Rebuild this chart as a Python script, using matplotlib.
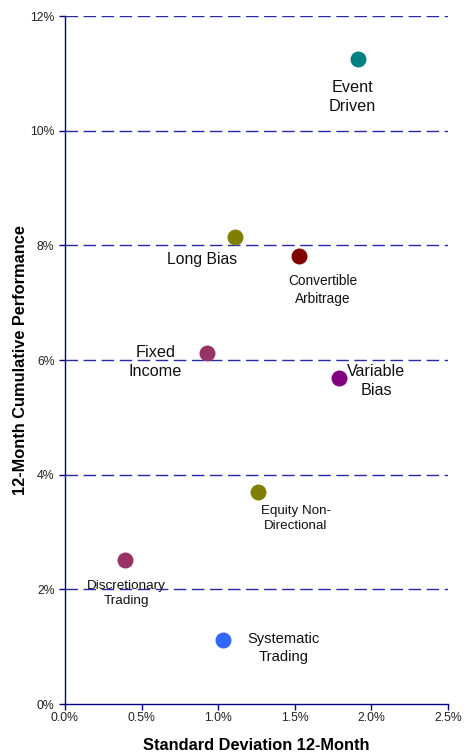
import matplotlib
matplotlib.use("Agg")
import matplotlib.pyplot as plt
from matplotlib.ticker import FuncFormatter

# --------------------
# DATA (percent)
# --------------------
strategies = ["Event\nDriven", "Long Bias", "Convertible\nArbitrage", "Fixed\nIncome",
              "Variable\nBias", "Equity Non-\nDirectional", "Discretionary\nTrading",
              "Systematic\nTrading"]
std_dev = [1.91, 1.11, 1.53, 0.93, 1.79, 1.26, 0.39, 1.03]
performance = [11.25, 8.15, 7.81, 6.12, 5.69, 3.70, 2.51, 1.12]
colors = ["#008080", "#808000", "#800000", "#993366", "#800080", "#808000",
          "#993366", "#3366FF"]

# label offsets in pixels and font sizes
offsets = [(-5, -38), (-33, -23), (23, -34), (-52, -9), (37, -3), (38, -27),
           (2, -33), (61, -8)]
sizes = [11.7, 11.3, 9.8, 11.7, 11.6, 9.6, 9.7, 10.6]

plt.rcParams['font.family'] = ['Liberation Sans', 'DejaVu Sans']
NAVY = "#000080"

fig = plt.figure(figsize=(4.74, 7.55), dpi=100)
ax = fig.add_axes([0.1371, 0.0675, 0.808, 0.9113])

for x, y, c in zip(std_dev, performance, colors):
    ax.plot(x, y, 'o', color=c, markersize=11.5, markeredgewidth=0, zorder=3)

for x, y, lab, off, fs in zip(std_dev, performance, strategies, offsets, sizes):
    ax.annotate(lab, (x, y), xytext=off, textcoords='offset pixels',
                ha='center', va='center', fontsize=fs, color='#111111',
                linespacing=1.32)

ax.set_xlim(0, 2.5)
ax.set_ylim(0, 12)
ax.set_xticks([0, 0.5, 1.0, 1.5, 2.0, 2.5])
ax.set_yticks(range(0, 13, 2))
ax.xaxis.set_major_formatter(FuncFormatter(lambda v, p: f"{v:.1f}%"))
ax.yaxis.set_major_formatter(FuncFormatter(lambda v, p: f"{v:.0f}%"))

for yv in range(2, 13, 2):
    ax.axhline(yv, color="#2828a8", lw=1.0, linestyle=(0, (9, 4)), zorder=1)

for s in ['top', 'right']:
    ax.spines[s].set_visible(False)
for s in ['left', 'bottom']:
    ax.spines[s].set_color(NAVY)
    ax.spines[s].set_linewidth(1.0)

ax.tick_params(axis='both', direction='out', length=4, width=1, color=NAVY,
               labelsize=8.8, labelcolor='#222222')
ax.tick_params(axis='x', pad=2)

ax.set_xlabel("Standard Deviation 12-Month", fontsize=11.8, fontweight='bold',
              labelpad=10)
ax.set_ylabel("12-Month Cumulative Performance", fontsize=11.8, fontweight='bold',
              labelpad=1.5)

fig.savefig("out.png", dpi=100)
